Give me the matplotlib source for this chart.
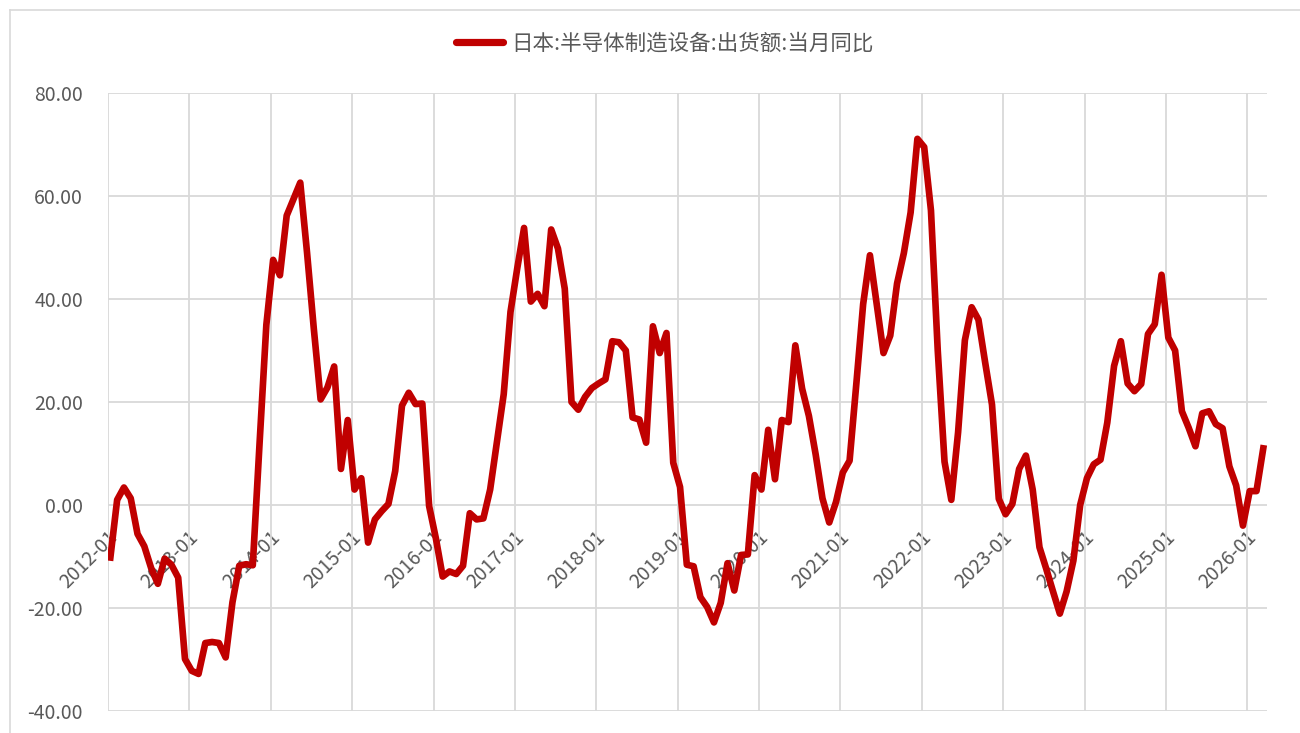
import matplotlib
matplotlib.use('Agg')
import matplotlib.pyplot as plt
from matplotlib.lines import Line2D
import numpy as np

plt.rcParams['font.family'] = ['Noto Sans CJK SC', 'DejaVu Sans']

# monthly series, 2012-01 .. 2026-03
start_year = 2012
series_name = '日本:半导体制造设备:出货额:当月同比'
yoy = [
    -10.2, 1.0, 3.4, 1.3, -5.6, -8.0, -12.2, -15.3, -10.4, -11.6, -14.1, -29.9,   # 2012
    -32.2, -32.8, -26.8, -26.6, -26.8, -29.6, -18.9, -11.8, -11.5, -11.7, 12.0, 35.0,  # 2013
    47.6, 44.6, 56.2, 59.4, 62.6, 49.0, 34.2, 20.5, 22.8, 26.9, 7.0, 16.5,   # 2014
    3.0, 5.2, -7.3, -2.8, -1.2, 0.2, 6.6, 19.3, 21.8, 19.6, 19.7, -0.2,      # 2015
    -6.5, -13.9, -12.9, -13.4, -11.8, -1.6, -2.8, -2.6, 3.0, 12.2, 21.5, 37.5,  # 2016
    46.0, 53.8, 39.5, 41.0, 38.6, 53.5, 49.8, 42.0, 20.0, 18.5, 21.0, 22.7,  # 2017
    23.6, 24.4, 31.8, 31.6, 30.0, 17.0, 16.6, 12.1, 34.7, 29.5, 33.4, 8.2,   # 2018
    3.5, -11.6, -11.9, -17.9, -19.8, -22.8, -19.0, -11.3, -16.6, -9.7, -9.6, 5.8,  # 2019
    3.0, 14.6, 5.0, 16.5, 16.1, 31.0, 22.6, 17.3, 9.8, 1.3, -3.4, 0.6,       # 2020
    6.3, 8.6, 23.6, 39.0, 48.5, 39.0, 29.5, 32.9, 43.0, 48.9, 56.8, 71.1,    # 2021
    69.5, 57.2, 30.0, 8.4, 1.0, 14.1, 32.0, 38.4, 36.0, 27.6, 19.5, 1.2,     # 2022
    -1.8, 0.2, 7.0, 9.6, 3.0, -8.2, -12.4, -16.8, -21.1, -16.8, -10.8, 0.0,  # 2023
    5.2, 7.9, 8.8, 16.0, 27.0, 31.8, 23.6, 22.1, 23.5, 33.2, 35.1, 44.7,     # 2024
    32.5, 30.0, 18.2, 15.0, 11.4, 17.8, 18.2, 15.7, 14.9, 7.5, 3.8, -4.0,    # 2025
    2.7, 2.7, 11.0,                                                          # 2026
]
year_labels = ['%d-01' % y for y in range(2012, 2027)]
y_ticks = [-40, -20, 0, 20, 40, 60, 80]

red = '#C00000'
grid_c = '#D9D9D9'
text_c = '#595959'

fig = plt.figure(figsize=(13, 7.33), dpi=100)
ax = fig.add_axes([108 / 1300, 1 - 711 / 733, (1267 - 108) / 1300, (711 - 93) / 733])

x = np.arange(len(yoy))
ax.plot(x, yoy, color=red, lw=4.8, solid_joinstyle='round', zorder=3)

ax.set_ylim(-40, 80)
ax.set_xlim(-0.35, 170.55)
ax.set_yticks(y_ticks)
ax.set_yticklabels(['%.2f' % v for v in y_ticks])

# gridlines on minor ticks (year starts), labels on majors shifted a bit right
year_pos = np.arange(0, len(year_labels) * 12, 12) - 0.35
ax.set_xticks(year_pos, minor=True)
ax.set_xticks(year_pos + 0.9)
ax.set_xticklabels(year_labels)
ax.grid(True, axis='y', color=grid_c, lw=1.3)
ax.grid(True, axis='x', which='minor', color=grid_c, lw=1.3)
ax.grid(False, axis='x', which='major')
ax.set_axisbelow(True)

for s in ['top', 'right', 'left']:
    ax.spines[s].set_visible(False)
ax.spines['bottom'].set_position(('data', 0))
ax.spines['bottom'].set_visible(False)

ax.tick_params(axis='both', which='both', length=0, colors=text_c, labelsize=14)
ax.tick_params(axis='y', pad=18)
ax.tick_params(axis='x', pad=21)
for lab in ax.get_xticklabels():
    lab.set_rotation(45)
    lab.set_ha('right')
    lab.set_va('center')
    lab.set_rotation_mode('anchor')

# chart area border (top / left visible)
fig.add_artist(Line2D([10 / 1300, 1], [1 - 10 / 733, 1 - 10 / 733], color=grid_c, lw=1.2))
fig.add_artist(Line2D([10 / 1300, 10 / 1300], [0, 1 - 10 / 733], color=grid_c, lw=1.2))

handle = Line2D([], [], color=red, lw=5.2, solid_capstyle='round')
fig.legend([handle], [series_name], loc='center', bbox_to_anchor=(664.5 / 1300, 1 - 44 / 733),
           frameon=False, fontsize=15.5, labelcolor=text_c, handlelength=2.2, handletextpad=0.35)

fig.savefig('out.png', dpi=100)
